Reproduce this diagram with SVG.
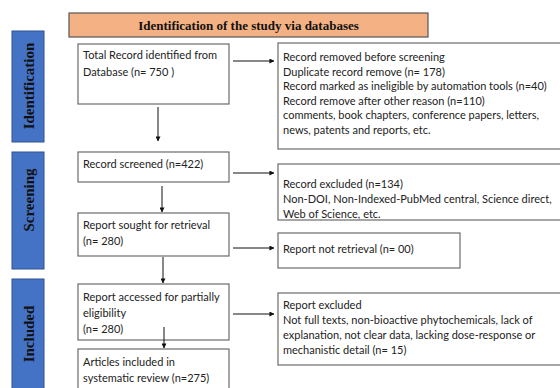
<svg xmlns="http://www.w3.org/2000/svg" width="560" height="388" viewBox="0 0 560 388">
<style>
.bar{fill:#4472C4;stroke:#2F528F;stroke-width:1}
.vt{font-family:"Liberation Serif",serif;font-weight:bold;font-size:15px;fill:#111;text-anchor:middle;dominant-baseline:central}
.box{fill:#fff;stroke:#6b6b6b;stroke-width:1.2}
.t{font-family:Lato,"Liberation Sans",sans-serif;font-size:11px;fill:#222}
.hd{fill:#F4B183;stroke:#555;stroke-width:1.2}
.ht{font-family:"Liberation Serif",serif;font-weight:bold;font-size:13px;fill:#111;text-anchor:middle}
.ln{stroke:#111;stroke-width:1;fill:none;marker-end:url(#ah)}
</style>
<defs>
<marker id="ah" viewBox="0 0 6 6" refX="5.5" refY="3" markerWidth="5" markerHeight="5" markerUnits="userSpaceOnUse" orient="auto">
<path d="M0,0 L6,3 L0,6 z" fill="#111"/>
</marker>
</defs>
<rect width="560" height="388" fill="#fff"/>
<g id="header">
<rect class="hd" x="69" y="13" width="359" height="24"/>
<text class="ht" x="248.5" y="30">Identification of the study via databases</text>
</g>
<g id="phase-identification">
<rect class="bar" x="12" y="31" width="32" height="111"/>
<text class="vt" transform="translate(29,86) rotate(-90)">Identification</text>
</g>
<g id="phase-screening">
<rect class="bar" x="12" y="152" width="32" height="117"/>
<text class="vt" transform="translate(29,200) rotate(-90)">Screening</text>
</g>
<g id="phase-included">
<rect class="bar" x="12" y="279" width="32" height="115"/>
<text class="vt" transform="translate(29,334) rotate(-90)">Included</text>
</g>
<g id="total-records">
<rect class="box" x="78" y="44" width="151" height="60"/>
<text class="t" x="83" y="59">Total Record identified from</text>
<text class="t" x="83" y="76">Database (n= 750 )</text>
</g>
<g id="removed-before">
<rect class="box" x="278" y="43" width="290" height="106"/>
<text class="t" x="283" y="61">Record removed before screening</text>
<text class="t" x="283" y="75.5">Duplicate record remove (n= 178)</text>
<text class="t" x="283" y="90">Record marked as ineligible by automation tools (n=40)</text>
<text class="t" x="283" y="104.5">Record remove after other reason (n=110)</text>
<text class="t" x="283" y="119">comments, book chapters, conference papers, letters,</text>
<text class="t" x="283" y="134">news, patents and reports, etc.</text>
</g>
<g id="screened">
<rect class="box" x="78" y="152" width="151" height="30"/>
<text class="t" x="83" y="168">Record screened (n=422)</text>
</g>
<g id="excluded">
<rect class="box" x="278" y="164" width="290" height="56"/>
<text class="t" x="283" y="188">Record excluded (n=134)</text>
<text class="t" x="283" y="203">Non-DOI, Non-Indexed-PubMed central, Science direct,</text>
<text class="t" x="283" y="217.5">Web of Science, etc.</text>
</g>
<g id="sought">
<rect class="box" x="78" y="213" width="151" height="43"/>
<text class="t" x="83" y="229">Report sought for retrieval</text>
<text class="t" x="83" y="245">(n= 280)</text>
</g>
<g id="not-retrieved">
<rect class="box" x="278" y="233" width="182" height="35"/>
<text class="t" x="283" y="253">Report not retrieval (n= 00)</text>
</g>
<g id="assessed">
<rect class="box" x="78" y="284" width="151" height="56"/>
<text class="t" x="83" y="301">Report accessed for partially</text>
<text class="t" x="83" y="317">eligibility</text>
<text class="t" x="83" y="333">(n= 280)</text>
</g>
<g id="report-excluded">
<rect class="box" x="278" y="293" width="290" height="72"/>
<text class="t" x="283" y="309">Report excluded</text>
<text class="t" x="283" y="324">Not full texts, non-bioactive phytochemicals, lack of</text>
<text class="t" x="283" y="339">explanation, not clear data, lacking dose-response or</text>
<text class="t" x="283" y="354">mechanistic detail (n= 15)</text>
</g>
<g id="included">
<rect class="box" x="78" y="349" width="151" height="45"/>
<text class="t" x="83" y="366">Articles included in</text>
<text class="t" x="83" y="382">systematic review (n=275)</text>
</g>
<g id="connectors">
<line class="ln" x1="233" y1="61" x2="274" y2="61"/>
<line class="ln" x1="158" y1="107" x2="158" y2="141"/>
<line class="ln" x1="233" y1="173" x2="274" y2="173"/>
<line class="ln" x1="162" y1="186" x2="162" y2="212"/>
<line class="ln" x1="233" y1="248" x2="274" y2="248"/>
<line class="ln" x1="163" y1="257" x2="163" y2="283"/>
<line class="ln" x1="233" y1="314" x2="274" y2="314"/>
<line class="ln" x1="164" y1="327" x2="164" y2="348"/>
</g>
</svg>
